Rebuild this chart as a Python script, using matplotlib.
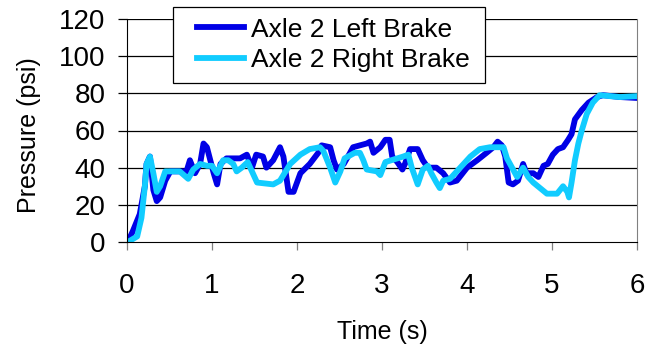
import matplotlib
matplotlib.use("Agg")
import matplotlib.pyplot as plt
from matplotlib.patches import Rectangle

plt.rcParams['font.family'] = ['Liberation Sans', 'DejaVu Sans']

# Axle 2 left brake (time s, pressure psi)
left_t = [0.01, 0.07, 0.15, 0.21, 0.23, 0.27, 0.31, 0.35, 0.39, 0.45, 0.51, 0.62, 0.70, 0.74,
          0.80, 0.86, 0.90, 0.94, 1.02, 1.06, 1.10, 1.17, 1.33, 1.41, 1.47, 1.52, 1.60, 1.64,
          1.72, 1.80, 1.84, 1.90, 1.96, 2.04, 2.15, 2.25, 2.29, 2.39, 2.43, 2.47, 2.55, 2.60,
          2.66, 2.82, 2.86, 2.90, 2.98, 3.04, 3.09, 3.12, 3.18, 3.24, 3.27, 3.33, 3.42, 3.48,
          3.54, 3.64, 3.72, 3.80, 3.88, 4.00, 4.12, 4.23, 4.31, 4.36, 4.41, 4.45, 4.49, 4.54,
          4.60, 4.66, 4.70, 4.78, 4.84, 4.90, 4.95, 5.01, 5.07, 5.13, 5.19, 5.23, 5.27, 5.35,
          5.43, 5.53, 5.60, 5.80, 6.00]
left_p = [0, 6, 15, 30, 42, 46, 28, 22, 24, 33, 38, 38, 38, 44,
          37, 42, 53, 51, 37, 31, 42, 45, 45, 47, 40, 47, 46, 40,
          44, 51, 46, 27, 27, 37, 42, 48, 52, 51, 44, 39, 42, 46,
          51, 53, 54, 48, 51, 55, 55, 46, 43, 39, 42, 50, 50, 44,
          40, 40, 37, 32, 33, 40, 44, 48, 51, 54, 52, 46, 32, 31,
          33, 42, 37, 37, 35, 41, 42, 47, 50, 51, 55, 58, 66, 71,
          75, 78, 79, 78, 77.5]

# Axle 2 right brake
right_t = [0.01, 0.12, 0.17, 0.21, 0.23, 0.27, 0.31, 0.35, 0.39, 0.45, 0.62, 0.72, 0.78, 0.86,
           0.94, 1.00, 1.06, 1.13, 1.19, 1.25, 1.29, 1.35, 1.42, 1.48, 1.53, 1.72, 1.80, 1.92,
           2.04, 2.15, 2.27, 2.31, 2.39, 2.45, 2.51, 2.56, 2.68, 2.74, 2.78, 2.82, 2.94, 2.98,
           3.04, 3.18, 3.25, 3.31, 3.35, 3.42, 3.48, 3.54, 3.58, 3.64, 3.68, 3.72, 3.80, 3.88,
           3.96, 4.04, 4.15, 4.27, 4.39, 4.43, 4.47, 4.53, 4.59, 4.66, 4.72, 4.78, 4.86, 4.94,
           5.06, 5.13, 5.18, 5.20, 5.23, 5.27, 5.31, 5.35, 5.41, 5.48, 5.56, 5.80, 6.00]
right_p = [0, 3, 13, 30, 42, 46, 37, 27, 30, 38, 38, 34, 39, 42,
           41, 41, 37, 44, 44, 42, 38, 40, 43, 37, 32, 31, 33, 42,
           47, 50, 51, 49, 40, 32, 38, 45, 48, 48, 44, 39, 38, 36,
           43, 45, 46, 47, 40, 31, 39, 41, 37, 32, 29, 33, 34, 38,
           42, 46, 50, 51, 51, 51, 45, 40, 35, 40, 35, 32, 29, 26,
           26, 30, 27, 24, 32, 44, 53, 60, 69, 75, 79, 78, 78.5]

x_ticks = [0, 1, 2, 3, 4, 5, 6]
y_ticks = [0, 20, 40, 60, 80, 100, 120]

W, H = 660, 347
fig = plt.figure(figsize=(6.6, 3.47), dpi=100)
ax = fig.add_axes([127 / W, 1 - 242 / H, 510 / W, 223 / H])

l1, = ax.plot(left_t, left_p, color='#0000E6', lw=4.2, label='Axle 2 Left Brake',
              solid_joinstyle='round')
l2, = ax.plot(right_t, right_p, color='#11CCFF', lw=4.2, label='Axle 2 Right Brake',
              solid_joinstyle='round')

ax.set_xlim(0, 6)
ax.set_ylim(0, 120)
ax.set_xticks(x_ticks)
ax.set_yticks(y_ticks)
for y in y_ticks[1:]:
    ax.axhline(y, color='black', lw=0.9, zorder=0)

ax.spines['top'].set_visible(False)
ax.spines['right'].set_color('#808080')
ax.spines['left'].set_color('black')
ax.spines['bottom'].set_color('black')
ax.tick_params(axis='y', direction='out', length=6.5, width=0.9, color='black',
               labelsize=20, pad=9)
ax.tick_params(axis='x', direction='out', length=5.5, width=0.9, color='#808080',
               labelsize=20, pad=17)

ax.set_xlabel('Time (s)', fontsize=18, labelpad=15)
ax.set_ylabel('Pressure (psi)', fontsize=18)
ax.yaxis.set_label_coords(-0.168, 0.48)

# legend box drawn separately so its padding matches the original
x0, y0, x1, y1 = 173, 7, 485, 83
fig.patches.append(Rectangle((x0 / W, 1 - y1 / H), (x1 - x0) / W, (y1 - y0) / H,
                             transform=fig.transFigure, facecolor='white',
                             edgecolor='black', lw=0.9, zorder=5))
leg = fig.legend(handles=[l1, l2], loc='center',
                 bbox_to_anchor=((x0 + x1) / 2 / W + 4 / W, 1 - (y0 + y1) / 2 / H), fontsize=19,
                 frameon=False, handlelength=1.8, handletextpad=0.25, borderpad=0,
                 labelspacing=0.25, borderaxespad=0)
leg.set_zorder(6)

fig.savefig('out.png', dpi=100)
